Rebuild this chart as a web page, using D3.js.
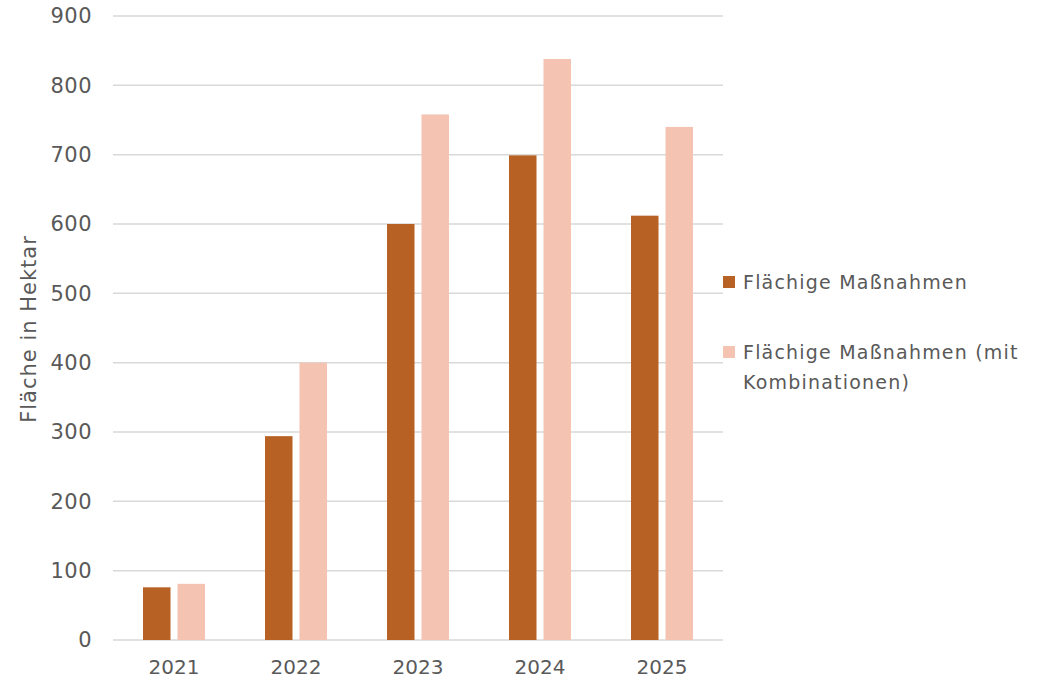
<!DOCTYPE html>
<html><head><meta charset="utf-8">
<script src="https://cdn.jsdelivr.net/npm/d3@7"></script>
<style>body{margin:0;background:#fff}svg{display:block;font-family:"DejaVu Sans",sans-serif}</style>
</head><body>
<svg id="c" width="1037" height="680"></svg>
<script>
const years = ["2021","2022","2023","2024","2025"];
const seriesNames = ["Flächige Maßnahmen","Flächige Maßnahmen (mit Kombinationen)"];
const flaechig = [76, 294, 600, 699, 612];
const kombi = [81, 400, 758, 838, 740];
const yTicks = [0,100,200,300,400,500,600,700,800,900];
const colors = ["#B86124","#F5C3B1"];

const svg = d3.select("#c");
const m = {l:113, r:723, t:16, b:640};
const x = d3.scaleBand().domain(years).range([m.l, m.r]).padding(0);
const y = d3.scaleLinear().domain([0,900]).range([m.b, m.t]);
const bw = 27.5, gap = 7;
const txt = "#595959";

svg.append("g").selectAll("line").data(yTicks).join("line")
  .attr("x1", m.l).attr("x2", m.r)
  .attr("y1", d=>y(d)).attr("y2", d=>y(d))
  .attr("stroke", "#d9d9d9").attr("stroke-width", 1.5);

const data = [flaechig, kombi];
data.forEach((arr, si) => {
  svg.append("g").selectAll("rect").data(arr).join("rect")
    .attr("x", (d,i) => x(years[i]) + x.bandwidth()/2 - gap/2 - bw + si*(bw+gap))
    .attr("y", d => y(d))
    .attr("width", bw)
    .attr("height", d => y(0) - y(d))
    .attr("fill", colors[si]);
});

const yAxis = d3.axisLeft(y).tickValues(yTicks).tickSize(0).tickPadding(0);
const ga = svg.append("g").attr("transform", "translate(92,0)").call(yAxis);
ga.select(".domain").remove();
ga.selectAll("text").attr("font-size", 21).attr("fill", txt)
  .attr("font-family", "'DejaVu Sans', sans-serif").attr("letter-spacing", 0.5);

const xAxis = d3.axisBottom(x).tickSize(0).tickPadding(0);
const gx = svg.append("g").attr("transform", `translate(0,${m.b+20})`).call(xAxis);
gx.select(".domain").remove();
gx.selectAll("text").attr("font-size", 20).attr("fill", txt)
  .attr("font-family", "'DejaVu Sans', sans-serif");

svg.append("text").attr("transform", "translate(36,329) rotate(-90)")
  .attr("text-anchor", "middle").attr("font-size", 21).attr("fill", txt)
  .attr("letter-spacing", 1)
  .text("Fläche in Hektar");

const leg = [
  {c: colors[0], y: 282, lines: [seriesNames[0]]},
  {c: colors[1], y: 352, lines: ["Flächige Maßnahmen (mit", "Kombinationen)"]}
];
leg.forEach(l => {
  svg.append("rect").attr("x", 723).attr("y", l.y - 6).attr("width", 12).attr("height", 12).attr("fill", l.c);
  const t = svg.append("text").attr("x", 743).attr("y", l.y + 7).attr("font-size", 19)
    .attr("fill", txt).attr("letter-spacing", 1.2);
  l.lines.forEach((s, i) => t.append("tspan").attr("x", 743).attr("dy", i ? 30 : 0).text(s));
});
</script>
</body></html>
